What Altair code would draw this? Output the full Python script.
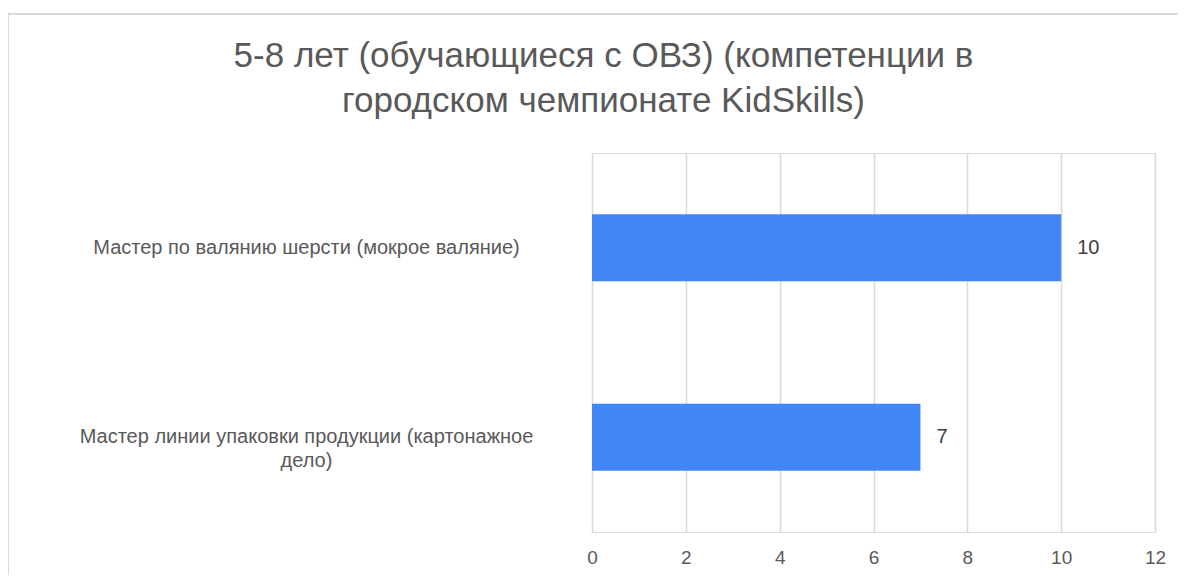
import altair as alt
import pandas as pd

categories = [
    "Мастер по валянию шерсти (мокрое валяние)",
    "Мастер линии упаковки продукции (картонажное дело)",
]
values = [10, 7]
x_ticks = [0, 2, 4, 6, 8, 10, 12]
title_lines = ["5-8 лет (обучающиеся с ОВЗ) (компетенции в", "городском чемпионате KidSkills)"]

df = pd.DataFrame({"category": categories, "value": values})

FONT = "Liberation Sans"
GRAY = "#595959"

label_expr = (
    "datum.label == '" + categories[1] + "' ? "
    "['Мастер линии упаковки продукции (картонажное', 'дело)'] : datum.label"
)

base = alt.Chart(df)

bars = base.mark_bar(color="#4285F4").encode(
    x=alt.X(
        "value:Q",
        scale=alt.Scale(domain=[0, 12], nice=False),
        axis=alt.Axis(
            values=x_ticks,
            title=None,
            domain=False,
            ticks=False,
            grid=True,
            gridColor="#d9d9d9",
            gridWidth=1.5,
            labelFont=FONT,
            labelFontSize=19,
            labelColor=GRAY,
            labelPadding=16,
            labelFlush=False,
        ),
    ),
    y=alt.Y(
        "category:N",
        sort=categories,
        scale=alt.Scale(paddingInner=0.646, paddingOuter=0.323),
        axis=alt.Axis(
            title=None,
            domain=False,
            ticks=False,
            grid=False,
            labelFont=FONT,
            labelFontSize=20,
            labelColor=GRAY,
            labelAlign="center",
            labelBaseline="middle",
            labelPadding=286,
            labelLimit=800,
            labelLineHeight=24,
            labelExpr=label_expr,
        ),
    ),
)

texts = base.mark_text(
    align="left", baseline="middle", dx=16, font=FONT, fontSize=20, color="#404040"
).encode(
    x="value:Q",
    y=alt.Y("category:N", sort=categories),
    text="value:Q",
)

border_top = alt.Chart(df).mark_rule(color="#dadada", strokeWidth=2).encode(
    x=alt.value(-584), x2=alt.value(640), y=alt.value(-139)
)
border_left = alt.Chart(df).mark_rule(color="#dadada", strokeWidth=2).encode(
    x=alt.value(-584), y=alt.value(-139), y2=alt.value(450)
)

chart = (
    alt.layer(border_top, border_left, bars, texts)
    .properties(
        width=563,
        height=379,
        autosize=alt.AutoSizeParams(type="none"),
        padding={"left": 584, "top": 145, "right": 23, "bottom": 43},
        title=alt.TitleParams(
            text=title_lines,
            font=FONT,
            fontSize=35,
            fontWeight="normal",
            color=GRAY,
            anchor="middle",
            dx=-270,
            offset=-106,
            lineHeight=45,
        ),
    )
    .configure_view(strokeWidth=0, stroke="transparent")
    .configure(background="white")
)

chart.save("out.html", embed_options={"renderer": "svg", "actions": False})
